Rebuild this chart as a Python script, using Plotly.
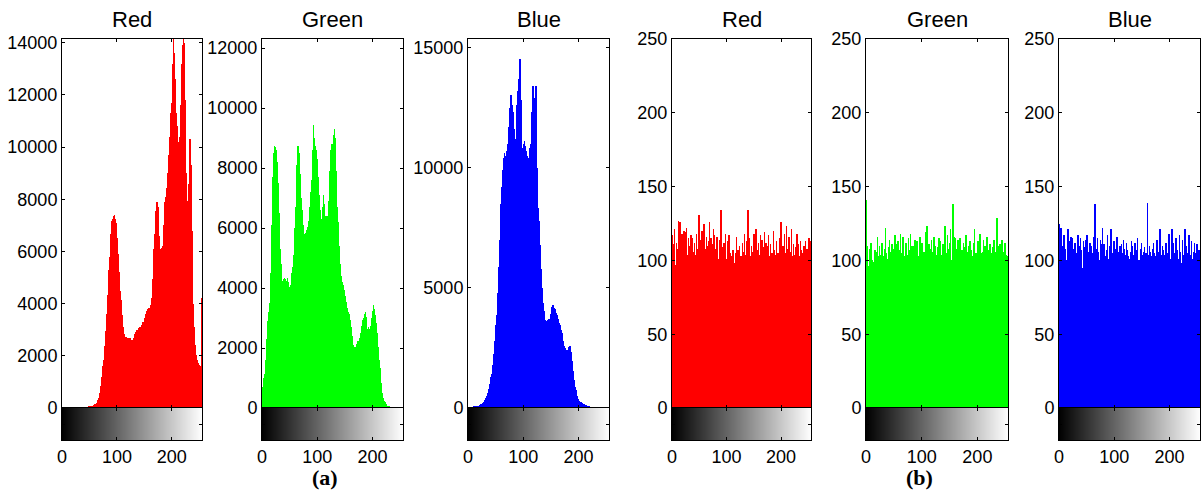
import plotly.graph_objects as go

W, H = 1204, 496

bins = list(range(256))

red_a = [0]*16 + [0]*16 + \
[0,0,0,0,0,0,0,0, 5,8,10,12,15,20,25,30] + \
[35,40,45,50,55,60,70,80, 90,100,110,120,135,150,165,180] + \
[200,240,300,380,470,580,700,850, 1020,1200,1400,1620,1850,2100,2380,2650] + \
[2950,3250,3600,3950,4350,4800,5300,5800, 6250,6650,6950,7150,7250,7050,7300,7350] + \
[7400,7250,7100,6850,6500,6200,5900,5550, 5200,4850,4500,4150,3850,3550,3300,3100] + \
[2950,2850,2780,2700,2650,2720,2620,2580, 2700,2640,2560,2600,2680,2550,2600,2580] + \
[2620,2560,2600,2680,2750,2820,2900,2850, 2950,3000,2920,3050,3020,3100,3050,3120] + \
[3100,3200,3150,3250,3300,3200,3350,3450, 3500,3600,3700,3650,3750,3800,3850,3780] + \
[3850,3900,3950,4050,4200,4500,4950,5500, 6100,6650,7150,7550,7800,7900,7850,7700] + \
[7400,6600,6000,5900,6100,6000,6150,6050, 6200,6600,7000,7500,7900,8100,8300,8450] + \
[8700,9000,9300,9700,10000,10400,10800,11300, 11700,12300,13200,14142,13600,13000,12600,12000] + \
[11300,10800,10500,10200,9900,9800,10000,10400, 10900,11600,12400,13200,13900,14142,14000,13300] + \
[11800,10200,9000,8000,7900,7950,8100,8600, 9400,10300,10200,9300,8200,6800,5300,4000] + \
[3100,2700,2400,2200,2050,1950,1850,1780, 1720,1680,1650,1620,1600,1580,1560,4200]

green_a = [350,500,700,850,1000,1150,1350,1600, 1900,2300,2650,2900,3000,3200,3500,3900] + \
[4500,5300,6100,7000,7700,8200,8500,8750, 8700,8600,8450,8200,7900,7500,7000,6500] + \
[5900,5300,4800,4400,4250,4150,4200,4300, 4250,4350,4300,4200,4100,4250,4350,4200] + \
[4100,4000,4050,3950,4100,4300,4500,4600, 4700,4800,5100,5500,6000,6700,7400,8100] + \
[8600,8750,8700,8500,8200,7800,7400,7000, 6600,6300,6100,5900,5800,5700,5650,5750] + \
[5850,5950,6000,6050,6100,6250,6450,6700, 6950,7200,7600,8100,8600,9450,9000,8500] + \
[8700,8750,8600,8300,8000,7700,7400,7100, 6800,6600,6400,6200,6100,6300,6700,7100] + \
[6800,6400,6300,6400,6350,6300,6400,6350, 6500,6900,7400,7900,8300,8600,8750,8800] + \
[8700,8900,9100,9300,9000,8500,7900,7300, 6700,6200,5800,5400,5100,4800,4600,4400] + \
[4300,4200,4100,4050,3950,3850,3750,3650, 3550,3450,3350,3300,3200,3150,3050,2950] + \
[2850,2700,2550,2400,2250,2100,2050,2000, 2050,2000,2050,2100,2150,2200,2250,2250] + \
[2300,2350,2400,2500,2650,2750,2850,2950, 3000,3050,3150,3200,3050,2800,2650,2600] + \
[2650,2700,2650,2600,2650,2750,2900,3000, 3100,3250,3450,3300,3100,3000,2850,2650] + \
[2500,2300,2050,1800,1600,1350,1100,850, 650,500,420,350,300,250,200,160] + \
[130,100,80,60,50,40,35,30, 25,20,15,12,10,8,5,3] + \
[0,0,0,0,0,0,0,0, 0,0,0,0,0,0,0,0]

blue_a = [40,40,40,40,40,40,40,40, 40,40,40,45,45,50,50,55] + \
[60,65,70,80,90,100,115,130, 150,170,190,215,240,270,300,340] + \
[380,430,480,540,610,690,780,880, 1000,1130,1270,1420,1600,1800,2020,2260] + \
[2520,2800,3100,3450,3850,4300,4800,5300, 5850,6400,7000,7700,8500,9200,9600,9900] + \
[10100,10400,10600,10500,10300,10200,10400,10700, 11000,11300,11700,12100,12500,12800,13000,12900] + \
[12600,12300,12000,11600,11300,11100,11000,11200, 11800,12600,13200,13500,13700,14000,14500,13600] + \
[12800,11800,10800,10400,10500,11000,11100,10900, 10800,10700,10600,10500,10400,10300,10400,10800] + \
[10300,10500,11000,11500,12300,13000,13400,12900, 12500,12500,13000,13400,13400,10000,9000,8300] + \
[7800,7300,6800,6300,5800,5400,5000,4650, 4350,4050,3800,3650,3600,3550,3600,3580] + \
[3620,3650,3700,3680,3700,3800,3900,4050, 4200,4250,4280,4250,4150,4100,4000,3950] + \
[3900,3850,3780,3700,3650,3550,3450,3350, 3250,3150,3100,2950,2800,2700,2600,2500] + \
[2480,2400,2320,2280,2300,2400,2500,2550, 2560,2500,2350,2150,1950,1750,1550,1350] + \
[1150,1000,880,750,620,500,430,380, 340,310,280,250,230,210,190,180] + \
[170,160,150,140,120,110,100,95, 85,75,65,55,45,40,35,30] + \
[28,25,22,20,18,16,15,14, 13,12,11,10,10,10,10,10] + \
[8,8,8,8,8,8,8,8, 8,8,8,8,8,8,8,8]

red_b = [95,117,111,99,88,121,84,97, 112,100,92,108,127,89,105,126] + \
[91,109,118,86,96,113,120,101, 119,90,107,122,93,104,115,87] + \
[110,85,99,117,92,115,101,88, 106,112,95,90,104,118,97,108] + \
[100,91,131,98,114,86,107,120, 93,112,103,125,95,89,108,116] + \
[90,110,94,113,103,126,88,97, 115,91,111,96,121,87,117,102] + \
[85,108,91,116,98,86,101,114, 89,97,134,92,109,85,96,112] + \
[93,104,118,90,101,87,113,88, 109,117,93,105,86,103,91,99] + \
[107,96,89,98,88,105,116,92, 86,107,99,92,110,96,87,103] + \
[99,112,90,106,94,118,104,91, 101,86,113,134,96,90,115,99] + \
[88,103,110,94,106,99,118,102, 87,93,121,100,91,107,90,112] + \
[104,95,117,96,88,114,98,109, 93,100,119,97,112,86,104,95] + \
[110,117,96,89,103,111,92,105, 99,86,120,101,107,94,89,104] + \
[113,97,105,88,93,115,107,92, 126,98,104,87,110,100,118,94] + \
[91,105,123,97,88,108,95,116, 100,89,106,121,103,90,101,111] + \
[104,87,97,109,95,118,106,90, 111,96,103,87,113,107,94,101] + \
[105,92,110,88,96,113,103,99, 108,86,97,115,91,104,113,95]

green_b = [141,113,104,110,92,96,108,101, 97,112,90,100,93,99,80,98] + \
[107,91,100,106,94,116,103,97, 110,88,95,104,98,112,101,91] + \
[103,108,94,122,96,105,92,101, 109,95,114,89,106,100,93,111] + \
[99,108,90,101,117,97,111,94, 95,113,99,107,88,96,118,100] + \
[92,105,116,109,98,89,103,112, 112,94,104,96,115,107,90,103] + \
[118,100,93,110,99,88,110,97, 114,94,105,100,113,89,103,96] + \
[104,116,101,92,95,112,98,106, 106,90,102,119,104,93,123,98] + \
[100,111,96,103,108,91,114,95, 106,100,116,97,110,89,99,104] + \
[97,109,100,115,92,101,113,96, 104,90,111,107,100,97,123,101] + \
[94,105,117,96,108,90,98,112, 121,100,93,104,138,101,95,116] + \
[115,103,92,108,97,114,102,90, 105,115,98,103,107,91,96,112] + \
[101,109,90,103,117,106,97,102, 110,92,104,113,101,107,90,103] + \
[98,112,100,121,92,102,105,96, 90,113,108,100,94,118,99,105] + \
[101,92,106,114,103,95,110,89, 102,116,97,101,107,91,103,111] + \
[100,105,92,103,109,97,114,104, 91,106,100,129,98,110,92,108] + \
[100,111,96,101,114,90,103,97, 106,100,112,104,93,96,103,100]

blue_b = [125,118,104,99,122,91,101,110, 93,117,98,102,108,89,100,112] + \
[121,97,104,113,88,106,116,99, 115,91,101,108,94,112,100,97] + \
[105,90,117,96,110,101,94,115, 98,107,89,95,113,99,109,92] + \
[101,114,96,117,87,98,106,93, 112,99,110,101,92,105,116,102] + \
[96,138,103,90,108,94,115,106, 98,87,100,114,111,99,91,122] + \
[97,111,105,86,100,103,92,107, 117,101,88,99,110,106,121,95] + \
[102,89,105,113,99,108,95,87, 100,116,97,106,90,102,110,96] + \
[103,111,88,105,97,114,108,92, 104,96,112,100,107,89,103,95] + \
[101,106,99,113,87,110,100,104, 96,112,91,107,101,98,115,100] + \
[97,88,100,108,95,112,104,99, 90,106,101,109,97,105,88,99] + \
[139,101,92,104,110,106,89,103, 99,108,96,112,105,90,97,103] + \
[100,114,98,106,88,102,97,121, 101,104,93,110,107,99,89,98] + \
[104,99,112,96,105,90,103,118, 108,97,101,87,121,99,112,96] + \
[101,105,91,103,115,96,107,99, 88,101,117,106,100,93,98,114] + \
[99,104,89,97,121,102,110,105, 92,96,103,117,99,88,104,98] + \
[113,101,90,106,97,112,100,105, 88,102,111,99,93,107,98,96]

titles = ["Red", "Green", "Blue", "Red", "Green", "Blue"]
series = [red_a, green_a, blue_a, red_b, green_b, blue_b]
colors = ["#ff0000", "#00ff00", "#0000ff", "#ff0000", "#00ff00", "#0000ff"]
ymax = [14142, 12300, 15350, 250, 250, 250]
yticks = [list(range(0, 14001, 2000)), list(range(0, 12001, 2000)),
          [0, 5000, 10000, 15000], [0, 50, 100, 150, 200, 250],
          [0, 50, 100, 150, 200, 250], [0, 50, 100, 150, 200, 250]]
xticks = [0, 100, 200]
panel_labels = ["(a)", "(b)"]

# layout geometry (pixels)
panels_x = [(62, 202), (262, 403), (468, 609), (672, 811), (866, 1008), (1059, 1200)]
hist_y = (39, 408)
bar_y = (408, 440)
label_x = [325, 919]


def xd(l, r):
    return [l / W, r / W]


def yd(t, b):
    return [1 - b / H, 1 - t / H]


FONT = "Liberation Sans, Arial, Helvetica, sans-serif"
TICK = 18
fig = go.Figure()
layout = dict(width=W, height=H, margin=dict(l=0, r=0, t=0, b=0, pad=0, autoexpand=False),
              paper_bgcolor="white", plot_bgcolor="white", showlegend=False,
              bargap=0, font=dict(family=FONT, size=TICK, color="black"))
annotations = []

common = dict(showline=True, linecolor="black", linewidth=1, mirror="ticks",
              ticks="inside", ticklen=3, tickcolor="black", showgrid=False,
              zeroline=False, fixedrange=True, automargin=False)

for i in range(6):
    hx = f"x{2*i+1}" if i > 0 else "x"
    hy = f"y{2*i+1}" if i > 0 else "y"
    cx = f"x{2*i+2}"
    cy = f"y{2*i+2}"
    fig.add_trace(go.Bar(x=bins, y=series[i], width=1, marker_color=colors[i],
                         marker_line_width=0, xaxis=hx, yaxis=hy))
    fig.add_trace(go.Heatmap(z=[bins], x=bins, y=[0], zmin=0, zmax=255,
                             colorscale=[[0, "#000000"], [1, "#ffffff"]],
                             showscale=False, xaxis=cx, yaxis=cy))
    l, r = panels_x[i]
    kx1 = "xaxis" if i == 0 else f"xaxis{2*i+1}"
    ky1 = "yaxis" if i == 0 else f"yaxis{2*i+1}"
    layout[kx1] = dict(domain=xd(l, r), range=[0, 255], tickvals=xticks,
                       showticklabels=False, anchor=hy, **common)
    layout[ky1] = dict(domain=yd(*hist_y), range=[0, ymax[i]], tickvals=yticks[i],
                       ticktext=[str(v) for v in yticks[i]], anchor=hx,
                       tickfont=dict(size=TICK), **common)
    layout[f"xaxis{2*i+2}"] = dict(domain=xd(l, r), range=[0, 255], tickvals=xticks,
                                    anchor=cy, tickfont=dict(size=TICK), **common)
    layout[f"yaxis{2*i+2}"] = dict(domain=yd(*bar_y), range=[-0.5, 0.5], tickvals=[0],
                                    showticklabels=False, anchor=cx, **common)
    annotations.append(dict(text=titles[i], x=(l + r) / 2 / W, y=1 - 19 / H,
                            xref="paper", yref="paper", showarrow=False,
                            xanchor="center", yanchor="middle",
                            font=dict(family=FONT, size=22, color="black")))

for j, t in enumerate(panel_labels):
    annotations.append(dict(text=f"<b>{t}</b>", x=label_x[j] / W, y=1 - 477 / H,
                            xref="paper", yref="paper", showarrow=False,
                            xanchor="center", yanchor="middle",
                            font=dict(family="Liberation Serif, Times New Roman, serif",
                                      size=22, color="black")))

layout["annotations"] = annotations
fig.update_layout(**layout)
fig.write_html("out.html")
